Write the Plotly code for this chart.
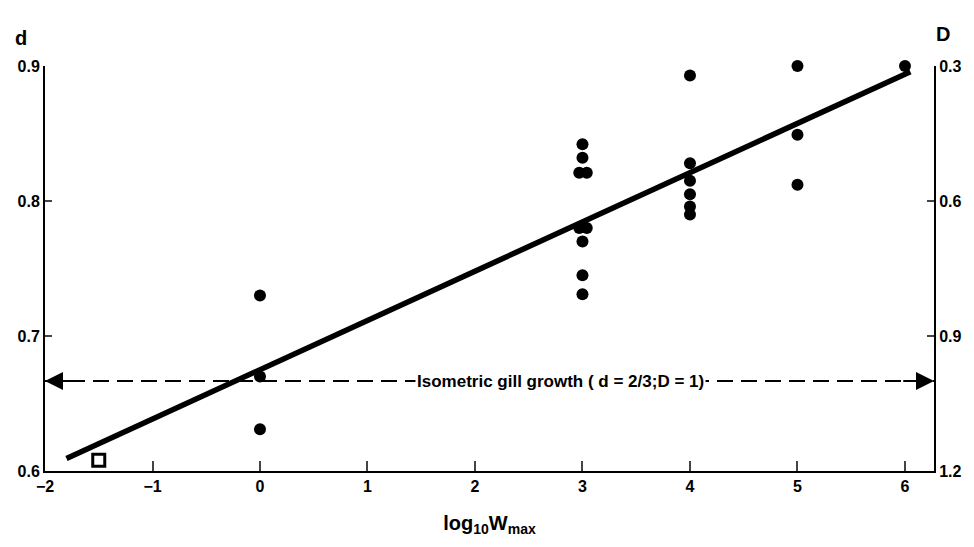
import plotly.graph_objects as go

# data (log10 Wmax, d)
x_pts = [0.0, 0.0, 0.0,
         3.0, 3.0, 2.97, 3.04, 2.97, 3.04, 3.0, 3.0, 3.0,
         4.0, 4.0, 4.0, 4.0, 4.0, 4.0,
         5.0, 5.0, 5.0,
         6.0]
d_pts = [0.730, 0.670, 0.631,
         0.842, 0.832, 0.821, 0.821, 0.780, 0.780, 0.770, 0.745, 0.731,
         0.893, 0.828, 0.815, 0.805, 0.796, 0.790,
         0.900, 0.849, 0.812,
         0.900]
sq_x = [-1.5]
sq_d = [0.608]
fit_x = [-1.8, 6.05]
fit_intercept = 0.675
fit_slope = 0.0365
iso_d = 2 / 3
x_range = [-2, 6.27]
x_ticks = [-2, -1, 0, 1, 2, 3, 4, 5, 6]
d_ticks = [0.6, 0.7, 0.8, 0.9]
D_ticks = [0.3, 0.6, 0.9, 1.2]
iso_label = "Isometric gill growth ( d = 2/3;D = 1)"

fit_y = [fit_intercept + fit_slope * v for v in fit_x]

FONT = "Liberation Sans"
fig = go.Figure()

fig.add_trace(go.Scatter(x=[x_range[0], x_range[1]], y=[iso_d, iso_d], mode="lines",
                         line=dict(color="black", width=2, dash="16px,8px"),
                         showlegend=False, hoverinfo="skip"))
fig.add_trace(go.Scatter(x=fit_x, y=fit_y, mode="lines",
                         line=dict(color="black", width=5.5),
                         showlegend=False, cliponaxis=False))
fig.add_trace(go.Scatter(x=x_pts, y=d_pts, mode="markers",
                         marker=dict(color="black", size=12),
                         showlegend=False, cliponaxis=False))
fig.add_trace(go.Scatter(x=sq_x, y=sq_d, mode="markers",
                         marker=dict(symbol="square-open", color="black", size=12,
                                     line=dict(width=3, color="black")),
                         showlegend=False, cliponaxis=False))
# invisible trace to activate the right axis
fig.add_trace(go.Scatter(x=[x_range[0]], y=[D_ticks[0]], yaxis="y2", mode="markers",
                         marker=dict(opacity=0), showlegend=False, hoverinfo="skip"))

# arrowheads of the isometric line
fig.add_annotation(x=x_range[0], y=iso_d, ax=x_range[0] + 0.3, ay=iso_d,
                   axref="x", ayref="y", xref="x", yref="y", text="",
                   showarrow=True, arrowhead=2, arrowsize=1.8, arrowwidth=2, arrowcolor="black")
fig.add_annotation(x=x_range[1], y=iso_d, ax=x_range[1] - 0.3, ay=iso_d,
                   axref="x", ayref="y", xref="x", yref="y", text="",
                   showarrow=True, arrowhead=2, arrowsize=1.8, arrowwidth=2, arrowcolor="black")
fig.add_annotation(x=2.8, y=iso_d, text=iso_label, showarrow=False,
                   bgcolor="white", borderpad=1,
                   font=dict(family=FONT, size=17, color="black", weight="bold"))

# axis letters
fig.add_annotation(x=-0.027, y=1.07, xref="paper", yref="paper", text="d", showarrow=False,
                   xanchor="center", yanchor="middle",
                   font=dict(family=FONT, size=20, color="black", weight="bold"))
fig.add_annotation(x=1.01, y=1.08, xref="paper", yref="paper", text="D", showarrow=False,
                   xanchor="center", yanchor="middle",
                   font=dict(family=FONT, size=20, color="black", weight="bold"))

tickfont = dict(family=FONT, size=16, color="black", weight="bold")
fig.update_layout(
    width=974, height=547,
    margin=dict(l=45, r=34, t=66, b=76),
    plot_bgcolor="white", paper_bgcolor="white",
    xaxis=dict(range=x_range, tickvals=x_ticks, ticks="inside", ticklen=10, tickwidth=1.5,
               showline=True, linecolor="black", linewidth=2, showgrid=False, zeroline=False,
               tickfont=tickfont,
               title=dict(text="log<sub>10</sub>W<sub>max</sub>", standoff=22,
                          font=dict(family=FONT, size=20, color="black", weight="bold"))),
    yaxis=dict(range=[0.6, 0.9], tickvals=d_ticks, ticktext=["0.6", "0.7", "0.8", "0.9"],
               ticks="inside", ticklen=7, tickwidth=1.5,
               showline=True, linecolor="black", linewidth=2, showgrid=False, zeroline=False,
               tickfont=tickfont),
    yaxis2=dict(range=[1.2, 0.3], tickvals=D_ticks, ticktext=["0.3", "0.6", "0.9", "1.2"],
                overlaying="y", side="right", ticks="inside", ticklen=7, tickwidth=1.5,
                showline=True, linecolor="black", linewidth=2, showgrid=False, zeroline=False,
                tickfont=tickfont),
)

fig.write_html("out.html")
